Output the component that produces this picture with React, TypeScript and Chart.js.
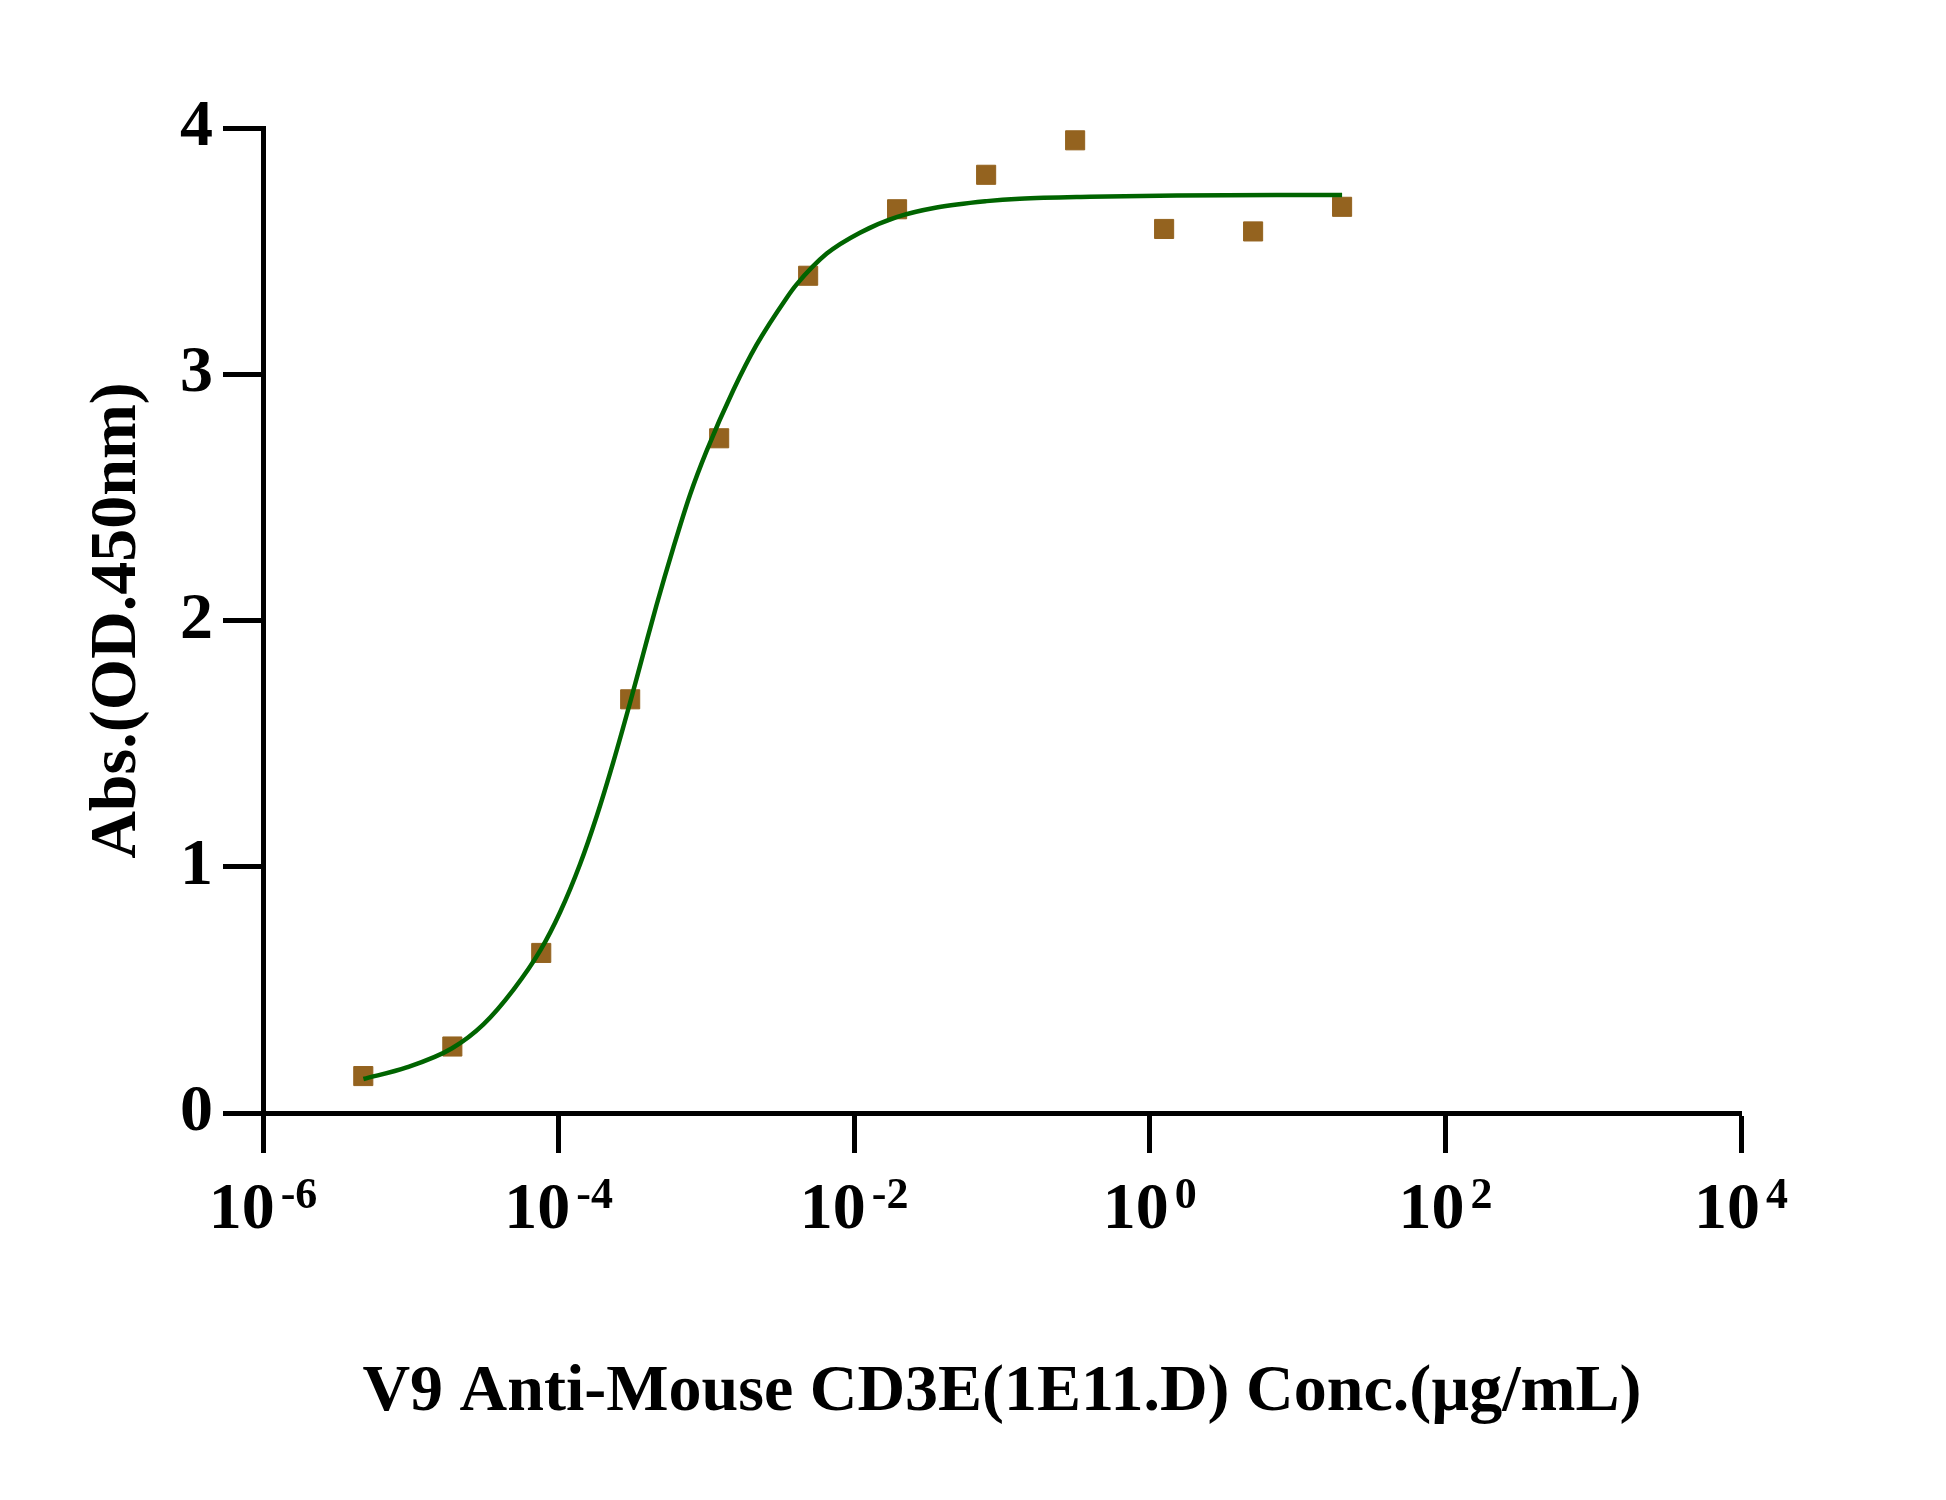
import React, { useEffect, useRef } from "react";
import { Chart, registerables } from "chart.js";

Chart.register(...registerables);

// Measured data points (concentration in µg/mL, absorbance)
const concentrations = [4.77e-6, 1.91e-5, 7.63e-5, 3.05e-4, 1.22e-3, 4.88e-3, 0.0195, 0.0781, 0.3125, 1.25, 5, 20];
const absorbance = [0.15, 0.27, 0.65, 1.68, 2.74, 3.40, 3.67, 3.81, 3.95, 3.59, 3.58, 3.68];

// Fitted curve
const fitX = [4.78e-6, 9.38e-6, 1.89e-5, 3.1e-5, 4.94e-5, 7.52e-5, 1.023e-4, 1.396e-4, 1.81e-4, 2.344e-4, 3.04e-4, 3.74e-4, 4.61e-4, 5.97e-4, 7.74e-4, 1.005e-3, 1.52e-3, 2.188e-3, 3.49e-3, 4.08e-3, 6.52e-3, 0.01094, 0.01936, 0.0361, 0.0787, 0.132, 0.394, 1.52, 20];
const fitY = [0.138, 0.185, 0.262, 0.36, 0.5, 0.66, 0.815, 1.01, 1.205, 1.425, 1.665, 1.865, 2.065, 2.295, 2.51, 2.69, 2.935, 3.12, 3.31, 3.365, 3.49, 3.575, 3.638, 3.677, 3.703, 3.713, 3.721, 3.726, 3.728];

// Axis ticks
const xTickValues = [1e-6, 1e-4, 1e-2, 1, 1e2, 1e4];
const xTickBase = "10";
const xTickExponents = ["-6", "-4", "-2", "0", "2", "4"];
const yTickValues = [0, 1, 2, 3, 4];

const xTitle = "V9 Anti-Mouse CD3E(1E11.D) Conc.(µg/mL)";
const yTitle = "Abs.(OD.450nm)";

const FONT = '"Liberation Serif", "Times New Roman", serif';

const xTickLabelPlugin = {
  id: "xTickLabelPlugin",
  afterDraw(chart: any) {
    const { ctx } = chart;
    const xs = chart.scales.x;
    const baseY = chart.chartArea.bottom + 115;
    ctx.save();
    ctx.fillStyle = "#000";
    ctx.textBaseline = "alphabetic";
    ctx.textAlign = "left";
    xTickValues.forEach((v, i) => {
      const px = xs.getPixelForValue(v);
      const big = `bold 66px ${FONT}`;
      const small = `bold 44px ${FONT}`;
      ctx.font = big;
      const wb = ctx.measureText(xTickBase).width;
      ctx.font = small;
      const we = ctx.measureText(xTickExponents[i]).width;
      const gap = 6;
      const left = px - (wb + gap + we) / 2;
      ctx.font = big;
      ctx.fillText(xTickBase, left, baseY);
      ctx.font = small;
      ctx.fillText(xTickExponents[i], left + wb + gap, baseY - 20);
    });
    ctx.restore();
  },
};

export default function App() {
  const ref = useRef<HTMLCanvasElement | null>(null);

  useEffect(() => {
    if (!ref.current) return;
    const chart = new Chart(ref.current, {
      type: "scatter",
      data: {
        datasets: [
          {
            label: "fit",
            data: fitX.map((x, i) => ({ x, y: fitY[i] })),
            showLine: true,
            borderColor: "#006400",
            borderWidth: 4.5,
            pointRadius: 0,
            cubicInterpolationMode: "monotone",
            fill: false,
          } as any,
          {
            label: "data",
            data: concentrations.map((x, i) => ({ x, y: absorbance[i] })),
            showLine: false,
            pointStyle: "rect",
            pointRadius: 13.5,
            pointBackgroundColor: "#94631f",
            pointBorderColor: "#94631f",
            pointBorderWidth: 1,
          } as any,
        ],
      },
      options: {
        responsive: false,
        animation: false,
        devicePixelRatio: 1,
        layout: { padding: { left: 0, right: 205, top: 128, bottom: 0 } },
        plugins: {
          legend: { display: false },
          tooltip: { enabled: false },
        },
        scales: {
          x: {
            type: "logarithmic",
            position: "bottom",
            min: 1e-6,
            max: 1e4,
            afterBuildTicks: (scale: any) => {
              scale.ticks = xTickValues.map((value) => ({ value }));
            },
            afterFit: (scale: any) => {
              scale.height = 387;
            },
            ticks: { display: false },
            grid: {
              display: true,
              drawOnChartArea: false,
              drawTicks: true,
              tickLength: 40,
              tickWidth: 5,
              tickColor: "#000",
            },
            border: { display: true, width: 5, color: "#000" },
            title: {
              display: true,
              text: xTitle,
              color: "#000",
              font: { family: FONT, size: 66, weight: "bold" },
              padding: { top: 0, bottom: 67 },
            },
          },
          y: {
            type: "linear",
            position: "left",
            min: 0,
            max: 4,
            afterBuildTicks: (scale: any) => {
              scale.ticks = yTickValues.map((value) => ({ value }));
            },
            afterFit: (scale: any) => {
              scale.width = 263;
            },
            ticks: {
              color: "#000",
              padding: 10,
              font: { family: FONT, size: 66, weight: "bold" },
            },
            grid: {
              display: true,
              drawOnChartArea: false,
              drawTicks: true,
              tickLength: 40,
              tickWidth: 5,
              tickColor: "#000",
            },
            border: { display: true, width: 5, color: "#000" },
            title: {
              display: true,
              text: yTitle,
              color: "#000",
              font: { family: FONT, size: 66, weight: "bold" },
              padding: { top: 78, bottom: 0 },
            },
          },
        },
      } as any,
      plugins: [xTickLabelPlugin],
    });
    return () => chart.destroy();
  }, []);

  return (
    <div style={{ position: "absolute", left: 0, top: 0, width: 1946, height: 1500, background: "#fff" }}>
      <canvas ref={ref} width={1946} height={1500} style={{ display: "block", width: 1946, height: 1500 }} />
    </div>
  );
}
